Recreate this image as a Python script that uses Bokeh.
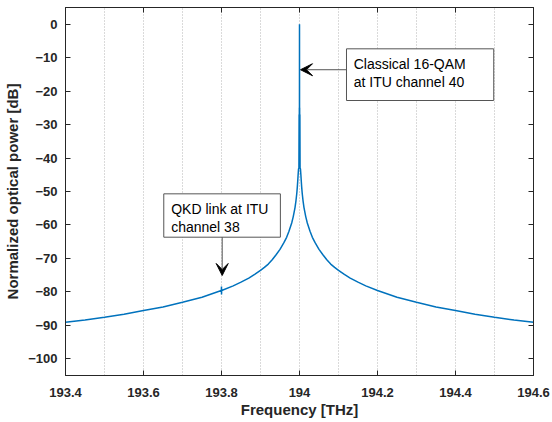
from bokeh.plotting import figure
from bokeh.models import Range1d, FixedTicker, LinearAxis, Arrow, VeeHead
from bokeh.core.properties import value
from bokeh.embed import file_html
from bokeh.resources import INLINE

# ---- data ----
freq_thz = [193.4, 193.45, 193.5, 193.55, 193.6, 193.65, 193.7, 193.75,
            193.7995, 193.8, 193.8, 193.8005,
            193.83, 193.85, 193.87, 193.885, 193.9, 193.91, 193.92, 193.93,
            193.94, 193.95, 193.96, 193.967, 193.973, 193.98, 193.984,
            193.9885, 193.991, 193.993, 193.9944, 193.9955, 193.9965, 193.9975,
            193.9985, 193.999, 193.9993, 193.9996, 193.9998, 194.0,
            194.0002, 194.0004, 194.0007, 194.001, 194.0015,
            194.0025, 194.0035, 194.0045, 194.0056, 194.007, 194.009, 194.0115,
            194.016, 194.02, 194.027, 194.033, 194.04, 194.05, 194.06, 194.07,
            194.08, 194.09, 194.1, 194.115, 194.13, 194.15, 194.17, 194.2,
            194.25, 194.3, 194.35, 194.4, 194.45, 194.5, 194.55, 194.6]
power_db = [-89.1, -88.4, -87.6, -86.7, -85.6, -84.5, -83.1, -81.6,
            -79.6, -78.4, -80.8, -79.6,
            -78.2, -77.1, -75.9, -74.8, -73.6, -72.7, -71.7, -70.4,
            -68.9, -67.3, -65.3, -63.7, -61.9, -59.4, -57.5,
            -54.8, -52.7, -50.6, -48.7, -46.8, -44.9, -43.3,
            -43.0, -27.0, -42.0, -25.0, -41.0, 0.0,
            -41.0, -25.0, -42.0, -27.0, -43.0,
            -43.3, -44.9, -46.8, -48.7, -50.6, -52.7, -54.8,
            -57.5, -59.4, -61.9, -63.7, -65.3, -67.3, -68.9, -70.4,
            -71.7, -72.7, -73.6, -74.8, -75.9, -77.1, -78.2, -79.6,
            -81.6, -83.1, -84.5, -85.6, -86.7, -87.6, -88.4, -89.1]

x_ticks = [193.4, 193.6, 193.8, 194.0, 194.2, 194.4, 194.6]
x_tick_labels = ["193.4", "193.6", "193.8", "194", "194.2", "194.4", "194.6"]
x_grid_ticks = [193.5, 193.6, 193.7, 193.8, 193.9, 194.0, 194.1, 194.2,
                194.3, 194.4, 194.5]
y_ticks = [0, -10, -20, -30, -40, -50, -60, -70, -80, -90, -100]

# annotations (data coordinates)
ann1_lines = ["Classical 16-QAM", "at ITU channel 40"]
ann1_box = dict(left=194.1205, right=194.498, top=-7.35, bottom=-22.8)
ann1_text_x = 194.139
ann1_text_y = [-11.83, -17.33]
ann1_arrow = dict(x_start=194.1205, y_start=-13.6, x_end=194.0026, y_end=-13.6)

ann2_lines = ["QKD link at ITU", "channel 38"]
ann2_box = dict(left=193.652, right=193.951, top=-50.7, bottom=-63.66)
ann2_text_x = 193.671
ann2_text_y = [-55.17, -60.67]
ann2_arrow = dict(x_start=193.8018, y_start=-63.66, x_end=193.8018, y_end=-75.1)

FONT = "Liberation Sans"
AX_COL = "#262626"

p = figure(width=552, height=422, output_backend="svg", toolbar_location=None,
           x_range=Range1d(193.4, 194.6), y_range=Range1d(-105, 5),
           min_border_left=65, min_border_right=19, min_border_top=7,
           min_border_bottom=47, x_axis_label="Frequency [THz]",
           y_axis_label="Normalized optical power [dB]")
p.outline_line_color = AX_COL
p.outline_line_width = 1
p.background_fill_color = "white"

# grid
p.ygrid.visible = False
p.xgrid.ticker = FixedTicker(ticks=x_grid_ticks)
p.xgrid.grid_line_color = "#b4b4b4"
p.xgrid.grid_line_dash = "1 2"
p.xgrid.grid_line_width = 1

# axes
p.xaxis.ticker = FixedTicker(ticks=x_ticks)
p.xaxis.major_label_overrides = {t: l for t, l in zip(x_ticks, x_tick_labels)}
p.yaxis.ticker = FixedTicker(ticks=y_ticks)
for ax in (p.xaxis[0], p.yaxis[0]):
    ax.axis_line_color = AX_COL
    ax.major_tick_line_color = AX_COL
    ax.major_tick_in = 5
    ax.major_tick_out = 0
    ax.minor_tick_line_color = None
    ax.major_label_text_font = FONT
    ax.major_label_text_font_size = "13px"
    ax.major_label_text_font_style = "bold"
    ax.major_label_text_color = AX_COL
    ax.axis_label_text_font = FONT
    ax.axis_label_text_font_size = "15px"
    ax.axis_label_text_font_style = "bold"
    ax.axis_label_text_color = AX_COL
p.xaxis.major_label_standoff = 12
p.xaxis.axis_label_standoff = 1
p.yaxis.major_label_standoff = 8
p.yaxis.axis_label_standoff = 4

# top / right box axes with inward ticks
top_ax = LinearAxis(ticker=FixedTicker(ticks=x_ticks))
right_ax = LinearAxis(ticker=FixedTicker(ticks=y_ticks))
for ax in (top_ax, right_ax):
    ax.axis_line_color = AX_COL
    ax.major_tick_line_color = AX_COL
    ax.major_tick_in = 5
    ax.major_tick_out = 0
    ax.minor_tick_line_color = None
    ax.major_label_text_font_size = "0px"
    ax.major_label_standoff = 0
    ax.major_label_text_color = None
p.add_layout(top_ax, "above")
p.add_layout(right_ax, "right")

# spectrum
p.line(freq_thz, power_db, line_color="#0072BD", line_width=1.5)

# annotation 1
p.quad(left=[ann1_box["left"]], right=[ann1_box["right"]], top=[ann1_box["top"]],
       bottom=[ann1_box["bottom"]], fill_color="white", line_color="#555555",
       line_width=1)
p.text(x=[ann1_text_x] * 2, y=ann1_text_y, text=ann1_lines,
       text_font=value(FONT), text_font_size="14px", text_color="black",
       text_baseline="middle", text_align="left")
p.add_layout(Arrow(end=VeeHead(size=12, fill_color="black", line_color="black"),
                   line_color="#555555", line_width=1, **ann1_arrow))

# annotation 2
p.quad(left=[ann2_box["left"]], right=[ann2_box["right"]], top=[ann2_box["top"]],
       bottom=[ann2_box["bottom"]], fill_color="white", line_color="#555555",
       line_width=1)
p.text(x=[ann2_text_x] * 2, y=ann2_text_y, text=ann2_lines,
       text_font=value(FONT), text_font_size="14px", text_color="black",
       text_baseline="middle", text_align="left")
p.add_layout(Arrow(end=VeeHead(size=12, fill_color="black", line_color="black"),
                   line_color="#555555", line_width=1, **ann2_arrow))

open("out.html", "w").write(file_html(p, INLINE))
